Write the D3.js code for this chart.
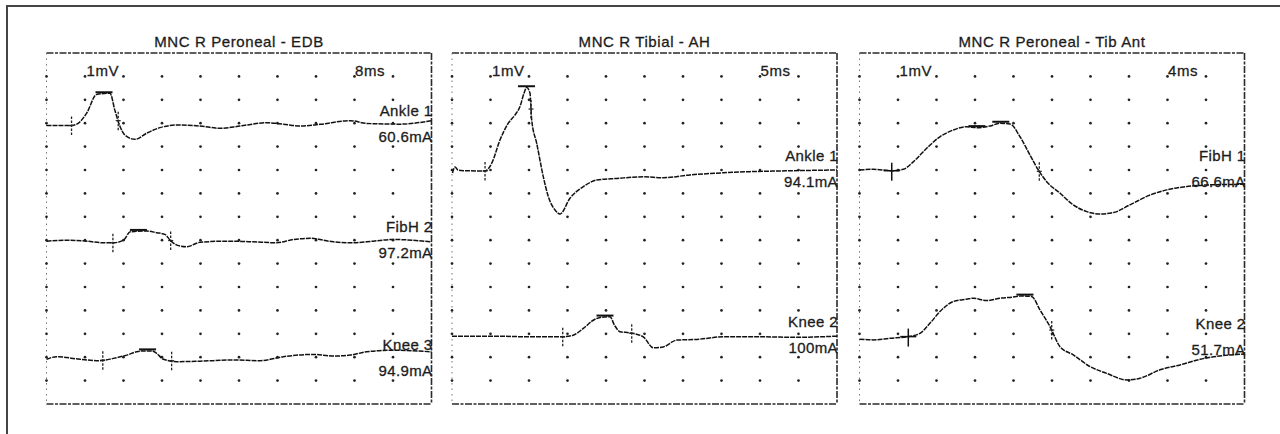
<!DOCTYPE html>
<html>
<head>
<meta charset="utf-8">
<script src="https://cdn.jsdelivr.net/npm/d3@7"></script>
<style>
  html, body { margin: 0; padding: 0; background: #fff; }
  svg text { font-family: "Liberation Sans", Arial, sans-serif; fill: #1c1c1c; stroke: #1c1c1c; stroke-width: 0.3px; }
</style>
</head>
<body>
<svg width="1280" height="434"></svg>
<script>
// Panel titles and sweep settings (ms per division, mV per division)
const titles = ["MNC R Peroneal - EDB", "MNC R Tibial - AH", "MNC R Peroneal - Tib Ant"];
const sweepMs = [8, 5, 4];
const gainMv = [1, 1, 1];

// Trace site names and stimulus intensities
const siteNames = [["Ankle 1", "FibH 2", "Knee 3"], ["Ankle 1", "Knee 2"], ["FibH 1", "Knee 2"]];
const stimLabels = [["60.6mA", "97.2mA", "94.9mA"], ["94.1mA", "100mA"], ["66.6mA", "51.7mA"]];

// Waveforms: [time ms, amplitude mV]
const edbAnkle = [[0,0],[5.2,0],[6.3,0.06],[8.35,0.53],[10.4,1.33],[13.2,1.38],[14.2,0.66],[15.3,-0.05],[16.3,-0.41],[18.4,-0.59],[20.8,-0.33],[23.6,-0.09],[27.1,0.02],[31.9,-0.02],[36.1,-0.12],[40.2,-0.02],[45.8,0.12],[49.2,0.06],[52.7,-0.02],[56.8,0.05],[63.1,0.21],[66.5,0.09],[73.5,0.06],[80,0.21]];
const edbFibH = [[0,0.02],[4.2,0.06],[8.4,0.02],[11.8,-0.05],[13.9,-0.05],[16,0.06],[17.4,0.42],[20.8,0.45],[22.9,0.38],[24.6,0.31],[25.7,0.06],[27.1,-0.15],[29.1,-0.22],[31.9,-0.03],[37.4,0.02],[43,-0.01],[47.8,-0.05],[51.3,0.09],[54.8,0.14],[59.6,-0.01],[63.8,-0.05],[67.9,0.02],[72.1,0.09],[80,-0.01]];
const edbKnee = [[0,-0.01],[2.1,0.1],[7,-0.01],[11.1,-0.07],[13.9,0.03],[16.7,0.17],[18.7,0.31],[20.1,0.35],[21.9,0.35],[22.9,0.24],[24.3,-0.01],[27.1,-0.11],[31.9,-0.09],[38.8,-0.04],[44.4,-0.07],[49.2,0.1],[55.4,0.2],[59.6,0.13],[63.1,0.17],[66.5,0.31],[72.1,0.38],[80,0.31]];
const ahAnkle = [[0.06,-0.1],[0.39,0.16],[0.78,0.03],[1.47,0],[4.29,-0.01],[5.16,0.32],[6.23,1.31],[7.31,2.03],[8.18,2.38],[8.83,2.74],[9.35,3.31],[9.7,3.56],[10.13,3.31],[10.35,2.17],[11,1.17],[11.86,-0.26],[12.51,-1.11],[13.38,-1.68],[14.03,-1.85],[15.32,-1.18],[17.05,-0.68],[18.79,-0.4],[21.39,-0.33],[24.84,-0.26],[27.44,-0.3],[30.91,-0.18],[35.23,-0.09],[38.7,-0.04],[42.6,-0.01],[50,0.03]];
const ahKnee = [[0,0.02],[5.8,0.02],[10.13,-0.01],[14.25,-0.01],[15.75,0.06],[17.05,0.35],[18.35,0.7],[19.22,0.82],[20.52,0.85],[21.1,0.49],[21.82,0.21],[23.12,0.16],[24.84,-0.01],[26.14,-0.48],[27.44,-0.44],[29.18,-0.15],[31.78,-0.12],[35.23,-0.01],[40.43,-0.01],[44.77,-0.03],[50,0.02]];
const taFibH = [[0,0],[1.43,0.03],[3.35,-0.03],[4.55,0.03],[5.59,0.35],[6.98,0.93],[8.36,1.42],[9.75,1.71],[11.14,1.85],[12.18,1.81],[13.56,1.88],[14.6,2],[15.64,1.97],[16.68,1.42],[17.71,0.64],[18.58,0],[19.45,-0.5],[20.83,-0.99],[22.21,-1.49],[23.61,-1.78],[24.99,-1.88],[26.37,-1.82],[28.1,-1.49],[30.18,-1.07],[31.92,-0.85],[33.99,-0.71],[36.07,-0.64],[40,-0.61]];
const taKnee = [[0,-0.01],[1.43,-0.04],[3.17,0.03],[5.07,0.1],[6.29,0.24],[7.32,0.67],[8.36,1.17],[9.75,1.6],[11.14,1.7],[11.82,1.74],[13.21,1.64],[14.6,1.74],[15.98,1.79],[16.85,1.84],[17.89,1.81],[18.75,1.24],[19.79,0.53],[20.83,-0.33],[22.21,-0.68],[23.95,-1.18],[25.68,-1.47],[27.76,-1.75],[29.14,-1.68],[31.22,-1.32],[33.3,-1.11],[35.38,-0.87],[40,-0.64]];
const waveforms = [[edbAnkle, edbFibH, edbKnee], [ahAnkle, ahKnee], [taFibH, taKnee]];

// Latency cursors: [kind, time ms]
const edbAnkleCursors = [["tick", 5.2], ["bar", 11.95], ["tick", 14.9]];
const edbFibHCursors = [["tick", 13.8], ["bar", 19.1], ["tick", 25.8]];
const edbKneeCursors = [["tick", 11.7], ["bar", 21], ["tick", 26]];
const ahAnkleCursors = [["tick", 4.29], ["bar", 9.68], ["tick", 10.26]];
const ahKneeCursors = [["tick", 14.38], ["bar", 19.87], ["tick", 23.34]];
const taFibHCursors = [["cross", 3.35], ["bar", 12.2], ["bar", 14.68], ["tick", 18.68]];
const taKneeCursors = [["cross", 5.07], ["bar", 17.19], ["tick", 19.97]];
const cursors = [[edbAnkleCursors, edbFibHCursors, edbKneeCursors], [ahAnkleCursors, ahKneeCursors], [taFibHCursors, taKneeCursors]];

// Layout: baseline of every trace in divisions from the top
const baseRows = [[3.1, 8.06, 13.08], [5.03, 12.12], [5.0, 12.22]];
const panelLeft = [46.5, 452, 859.5];
const panelW = 385, boxTop = 53, boxBottom = 404;
const nCols = 10, nRows = 15;

const svg = d3.select("svg");

// outer frame (left and top edge only)
svg.append("line").attr("x1", 7).attr("y1", 6).attr("x2", 1280).attr("y2", 6)
  .attr("stroke", "#444").attr("stroke-width", 2);
svg.append("line").attr("x1", 7).attr("y1", 5).attr("x2", 7).attr("y2", 434)
  .attr("stroke", "#444").attr("stroke-width", 2);

titles.forEach((title, p) => {
  const x0 = panelLeft[p];
  const x = d3.scaleLinear().domain([0, nCols * sweepMs[p]]).range([x0, x0 + panelW]);
  const y = d3.scaleLinear().domain([0, nRows]).range([boxTop, boxBottom]);
  const col = d3.scaleLinear().domain([0, nCols]).range([x0, x0 + panelW]);
  const g = svg.append("g");

  // title
  g.append("text").attr("x", x0 + panelW / 2).attr("y", 47)
    .attr("text-anchor", "middle").style("font-size", "15px").style("letter-spacing", "0.6px")
    .text(title);

  // box: dashed top, right, bottom, dotted left
  const edge = "7,1.5,3,1.5";
  g.append("line").attr("x1", x0).attr("x2", x0 + panelW).attr("y1", boxTop).attr("y2", boxTop)
    .attr("stroke", "#2a2a2a").attr("stroke-width", 1.6).attr("stroke-dasharray", edge);
  g.append("line").attr("x1", x0).attr("x2", x0 + panelW).attr("y1", boxBottom).attr("y2", boxBottom)
    .attr("stroke", "#2a2a2a").attr("stroke-width", 1.6).attr("stroke-dasharray", edge);
  g.append("line").attr("x1", x0 + panelW).attr("x2", x0 + panelW).attr("y1", boxTop).attr("y2", boxBottom)
    .attr("stroke", "#2a2a2a").attr("stroke-width", 1.6).attr("stroke-dasharray", edge);
  g.append("line").attr("x1", x0).attr("x2", x0).attr("y1", boxTop).attr("y2", boxBottom)
    .attr("stroke", "#777").attr("stroke-width", 1).attr("stroke-dasharray", "1.5,4");

  // grid dots
  const pts = [];
  d3.range(0, nCols).forEach(c => d3.range(1, nRows).forEach(r => pts.push([c, r])));
  g.selectAll("circle.dot").data(pts).enter().append("circle")
    .attr("class", "dot")
    .attr("cx", d => col(d[0])).attr("cy", d => y(d[1]))
    .attr("r", 1.35).attr("fill", "#222");

  // sensitivity and sweep labels
  g.append("text").attr("x", col(1) + 1.5).attr("y", y(1) - 0.5)
    .style("font-size", "15px").style("letter-spacing", "0.6px")
    .text(gainMv[p] + "mV");
  g.append("text").attr("x", col(8) + 0.5).attr("y", y(1) - 0.5)
    .style("font-size", "15px").style("letter-spacing", "0.6px")
    .text(sweepMs[p] + "ms");

  waveforms[p].forEach((wave, i) => {
    const base = baseRows[p][i];
    const yv = v => y(base - v / gainMv[p]);
    const line = d3.line().x(d => x(d[0])).y(d => yv(d[1])).curve(d3.curveMonotoneX);

    g.append("path").datum(wave)
      .attr("d", line).attr("fill", "none")
      .attr("stroke", "#111").attr("stroke-width", 1.5)
      .attr("stroke-dasharray", "5,1");

    // cursors on the waveform
    const bis = d3.bisector(d => d[0]).left;
    const valueAt = t => {
      const k = Math.max(1, Math.min(wave.length - 1, bis(wave, t)));
      const a = wave[k - 1], b = wave[k];
      return a[1] + (b[1] - a[1]) * (t - a[0]) / (b[0] - a[0]);
    };
    cursors[p][i].forEach(([kind, t]) => {
      const cx = x(t), cy = yv(valueAt(t));
      if (kind === "bar") {
        g.append("line").attr("x1", cx - 8.5).attr("x2", cx + 8.5)
          .attr("y1", cy - 1.5).attr("y2", cy - 1.5)
          .attr("stroke", "#111").attr("stroke-width", 2);
      } else if (kind === "cross") {
        g.append("line").attr("x1", cx).attr("x2", cx).attr("y1", cy - 8).attr("y2", cy + 10)
          .attr("stroke", "#111").attr("stroke-width", 1.5);
        g.append("line").attr("x1", cx - 8).attr("x2", cx + 8).attr("y1", cy).attr("y2", cy)
          .attr("stroke", "#111").attr("stroke-width", 1.5);
      } else {
        g.append("line").attr("x1", cx).attr("x2", cx).attr("y1", cy - 9).attr("y2", cy + 10)
          .attr("stroke", "#222").attr("stroke-width", 1.3).attr("stroke-dasharray", "2.5,1.5");
        g.append("line").attr("x1", cx - 2.5).attr("x2", cx + 2.5).attr("y1", cy).attr("y2", cy)
          .attr("stroke", "#222").attr("stroke-width", 1.2);
      }
    });

    // site and stimulus labels at the right edge
    g.append("text").attr("x", x0 + panelW + 1).attr("y", y(base) - 15)
      .attr("text-anchor", "end").attr("dominant-baseline", "central")
      .style("font-size", "15px").style("letter-spacing", "0.4px")
      .text(siteNames[p][i]);
    g.append("text").attr("x", x0 + panelW + 1).attr("y", y(base) + 11)
      .attr("text-anchor", "end").attr("dominant-baseline", "central")
      .style("font-size", "15px").style("letter-spacing", "0.4px")
      .text(stimLabels[p][i]);
  });
});
</script>
</body>
</html>
